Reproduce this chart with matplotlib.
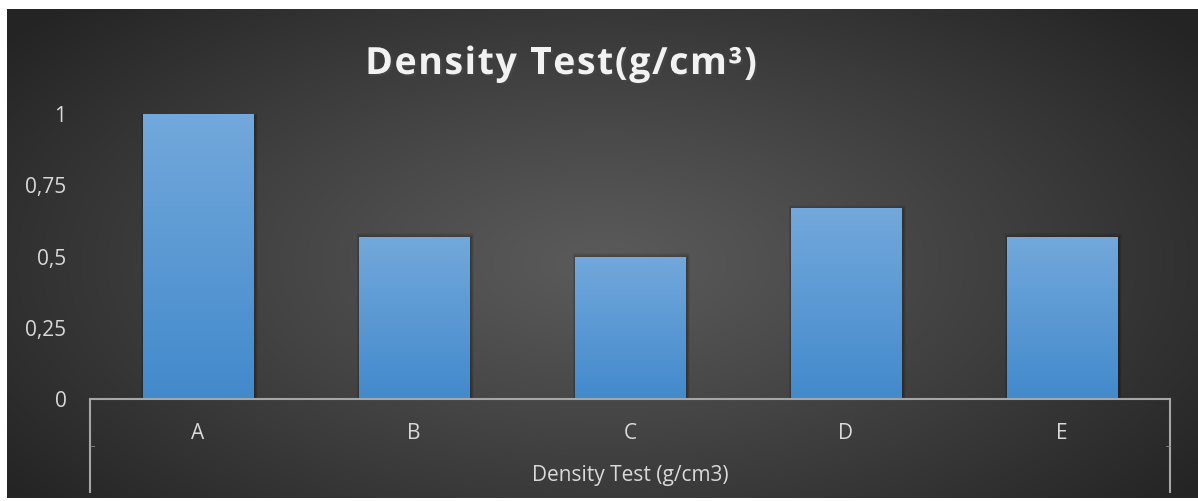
import numpy as np
import matplotlib.pyplot as plt
from matplotlib.lines import Line2D
import matplotlib.patheffects as pe

categories = ['A', 'B', 'C', 'D', 'E']
density = [1.0, 0.57, 0.5, 0.67, 0.57]
yticks = [0, 0.25, 0.5, 0.75, 1]
ytick_labels = ['0', '0,25', '0,5', '0,75', '1']
title = 'Density Test(g/cm³)'
xlabel = 'Density Test (g/cm3)'

W, H = 1198, 501
fig = plt.figure(figsize=(W / 100, H / 100), dpi=100, facecolor='white')
plt.rcParams['font.family'] = ['Open Sans', 'DejaVu Sans']

# dark radial background
bg = fig.add_axes([7 / W, 3 / H, 1 - 7 / W, (H - 12) / H])
bg.set_axis_off()
yy, xx = np.mgrid[0:1:300j, 0:1:600j]
r = np.sqrt(((xx - 0.5) / 0.62) ** 2 + ((yy - 0.52) / 0.75) ** 2)
r = np.clip(r, 0, 1)
c0, c1 = 0.355, 0.145
img = c0 + (c1 - c0) * r ** 1.1
bg.imshow(np.dstack([img, img, img]), aspect='auto', extent=[0, 1, 0, 1])
bg.set_xlim(0, 1)
bg.set_ylim(0, 1)

ax = fig.add_axes([90 / W, (H - 399) / H, 1080 / W, 285 / H])
ax.patch.set_alpha(0)
x = np.arange(len(categories))
bars = ax.bar(x, density, width=0.51, color='none', zorder=3)

grad = np.linspace(0, 1, 256).reshape(-1, 1)
top = np.array([0.45, 0.66, 0.86])
bot = np.array([0.26, 0.54, 0.80])
gimg = bot + (top - bot) * grad[:, :, None]
for b in bars:
    bx, by = b.get_x(), b.get_y()
    bw, bh = b.get_width(), b.get_height()
    # soft shadow
    for k in range(1, 7):
        dx = 0.0045 * k
        dy = 0.012 * k
        ax.add_patch(plt.Rectangle((bx - dx * 0.6 + 0.006, by), bw + 1.2 * dx,
                                   bh + dy * 0.3 - 0.01, color='black',
                                   alpha=0.05, zorder=2, lw=0))
    im = ax.imshow(gimg, aspect='auto', extent=[bx, bx + bw, by, by + bh],
                   origin='lower', zorder=3)
    im.set_clip_path(b)

ax.set_xlim(-0.5, len(categories) - 0.5)
ax.set_ylim(0, 1)
for s in ['top', 'right', 'left']:
    ax.spines[s].set_visible(False)
ax.spines['bottom'].set_color('#a6a6a6')
ax.spines['bottom'].set_linewidth(1.5)
ax.spines['bottom'].set_zorder(4)

ax.set_yticks(yticks)
ax.set_yticklabels(ytick_labels)
ax.set_xticks(x)
ax.set_xticklabels(categories)
ax.tick_params(axis='y', length=0, pad=17, labelsize=15, labelcolor='#d9d9d9')
ax.tick_params(axis='x', length=0, pad=17, labelsize=15, labelcolor='#d9d9d9')

# category box lines below axis
for xv, d in [(0, 0.004), (1, -0.004)]:
    ax.add_line(Line2D([xv, xv], [0, -0.326], transform=ax.transAxes,
                       color='#a6a6a6', lw=1.5, clip_on=False))
    ax.add_line(Line2D([xv, xv + d], [-0.165, -0.165],
                       transform=ax.transAxes, color='#8a8a8a', lw=0.6,
                       clip_on=False))

ax.text(0.5, -0.27, xlabel, transform=ax.transAxes,
        ha='center', va='center', fontsize=15, color='#d9d9d9')

# title with letter spacing, placed char by char
renderer = fig.canvas.get_renderer()
tkw = dict(fontsize=27, fontweight='bold', color='#f2f2f2')
widths = []
for ch in title:
    if ch == ' ':
        widths.append(27 * 1.389 * 0.26)
        continue
    t = fig.text(0, 0, ch, **tkw)
    widths.append(t.get_window_extent(renderer).width)
    t.remove()
track = 1.6
total = sum(widths) + track * (len(title) - 1)
xpos = 561 - total / 2
for ch, w in zip(title, widths):
    if ch != ' ':
        fig.text(xpos / W, 1 - 74 / H, ch, ha='left', va='baseline', **tkw,
                 path_effects=[pe.withSimplePatchShadow(offset=(1.5, -1.5),
                                                        alpha=0.6)])
    xpos += w + track

fig.savefig('out.png', dpi=100, facecolor='white')
